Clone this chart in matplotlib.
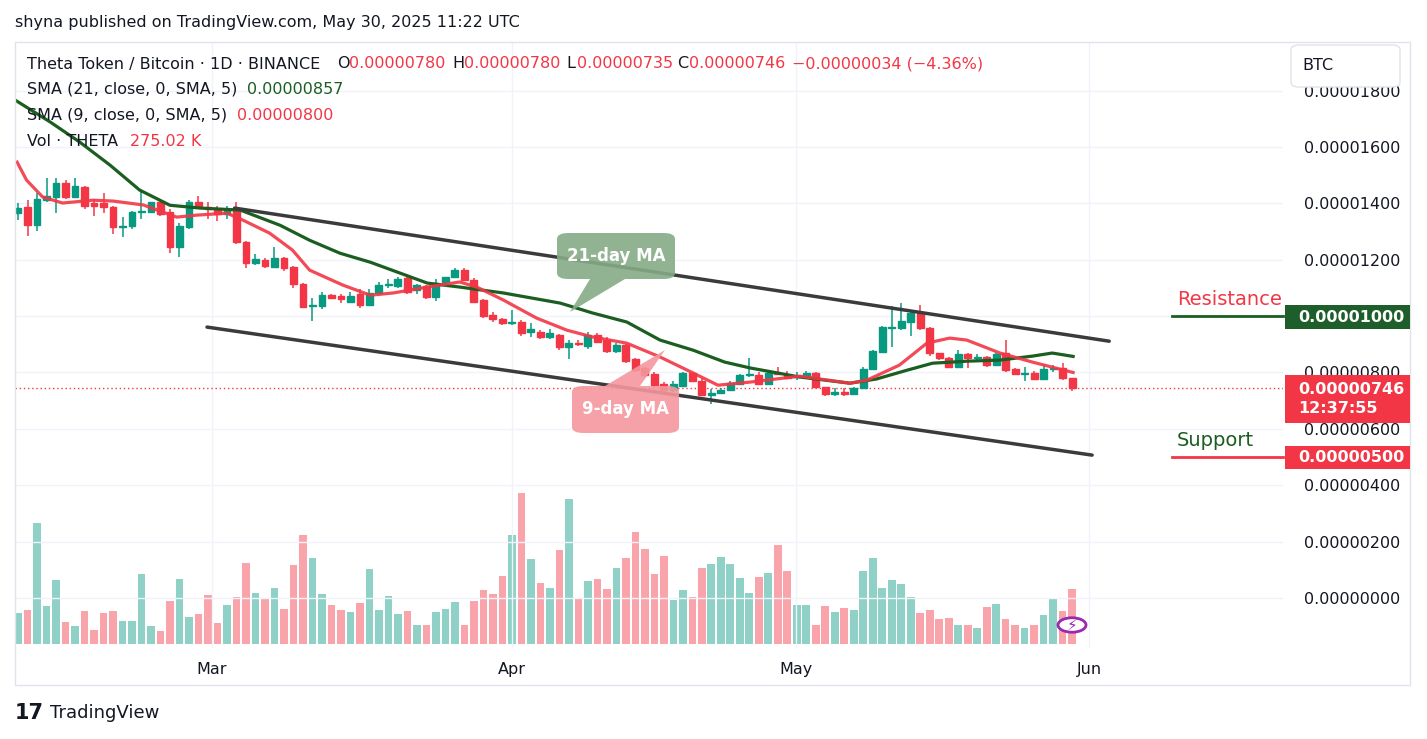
import matplotlib
matplotlib.use("Agg")
import matplotlib.pyplot as plt
from matplotlib.patches import FancyBboxPatch, Polygon, Rectangle, Circle
import numpy as np

# prices in units of 1e-8 BTC (satoshi)
opens = [1365,1387,1323,1411,1422,1472,1422,1457,1401,1401,1387,1316,1320,1369,1369,1404,1369,1245,1316,1404,
         1387,1380,1362,1376,1263,1188,1199,1174,1206,1174,1113,1035,1035,1074,1070,1050,1078,1039,1081,1110,
         1106,1135,1092,1106,1067,1120,1138,1163,1128,1057,1003,989,975,979,945,943,925,933,890,904,
         893,933,915,876,897,847,815,794,759,738,752,798,770,720,727,738,759,791,791,759,
         798,791,783,784,798,748,723,730,723,745,812,872,957,957,979,1010,957,869,851,819,
         865,851,855,826,869,812,795,798,777,812,815,780]
highs = [1400,1410,1436,1489,1489,1482,1489,1460,1415,1436,1390,1350,1372,1447,1404,1404,1380,1330,1412,1425,
         1404,1390,1390,1404,1265,1220,1205,1245,1210,1178,1118,1065,1085,1080,1080,1085,1095,1095,1120,1130,
         1140,1140,1115,1110,1130,1140,1170,1170,1135,1060,1015,995,1020,985,975,950,955,935,915,915,
         945,940,925,905,900,850,820,800,765,770,800,800,780,740,745,770,795,851,800,805,
         820,805,800,805,802,750,745,745,750,818,880,965,1035,1045,1015,1040,960,870,855,880,
         870,865,860,870,915,815,820,805,825,825,835,780]
lows = [1340,1284,1300,1405,1365,1415,1418,1380,1355,1365,1291,1280,1310,1345,1365,1355,1224,1210,1310,1380,
        1345,1337,1345,1255,1170,1180,1170,1170,1160,1100,1030,982,1025,1060,1045,1045,1030,1035,1075,1100,
        1100,1080,1080,1060,1055,1110,1135,1125,1045,995,980,968,970,930,925,920,920,880,847,895,
        885,905,870,870,835,800,785,750,730,730,750,765,715,688,722,735,755,785,755,755,
        790,778,775,780,745,715,718,715,720,740,808,868,890,950,930,950,860,845,815,815,
        815,840,820,822,800,790,770,775,775,800,775,735]
closes = [1383,1323,1415,1425,1472,1422,1461,1390,1390,1387,1316,1320,1369,1372,1404,1362,1245,1320,1404,1387,
          1380,1362,1380,1263,1188,1202,1177,1206,1170,1113,1032,1035,1074,1064,1060,1070,1039,1081,1110,1113,
          1131,1085,1110,1067,1117,1138,1163,1128,1050,1000,989,975,979,940,954,925,940,890,904,900,
          933,908,876,897,840,808,791,755,738,759,798,770,720,727,738,762,791,791,759,798,
          794,780,783,798,748,723,730,723,745,812,876,961,957,982,1010,957,869,851,819,865,
          851,851,826,865,808,794,798,777,812,815,780,746]
volumes_k = [155,170,605,190,320,110,90,165,70,155,165,115,115,350,90,65,215,325,135,150,
             245,105,195,235,405,255,225,280,175,395,545,430,250,195,170,160,205,375,170,240,
             150,165,95,95,160,175,210,95,215,270,250,340,545,755,425,305,280,470,725,230,
             315,325,275,380,430,560,475,350,440,220,270,235,380,400,435,400,330,255,335,355,
             495,365,195,195,95,190,160,180,170,365,430,280,320,300,235,155,170,125,130,95,
             95,80,185,200,125,95,80,95,145,225,165,275.02]

sma21_idx = [-0.3,3.4,6.5,9.7,12.8,16.0,19.2,23.4,27.6,30.7,33.9,37.1,43.1,46.5,51.1,57.1,60.5,64.1,67.6,71.1,
             74.4,77.1,82.3,87.6,90.4,93.6,96.3,99.9,103.4,106.8,108.9,111.1]
sma21_val = [1766,1688,1617,1535,1447,1393,1383,1376,1322,1269,1223,1191,1117,1103,1082,1046,1011,979,915,879,
             837,816,784,762,777,808,833,840,844,858,869,857]
sma9_idx = [-0.1,0.9,2.6,4.7,7.9,10.0,13.2,16.7,18.8,22.0,23.7,26.5,28.9,30.7,34.2,37.1,39.5,43.1,46.5,48.3,
            51.1,54.6,57.8,60.5,64.1,67.6,71.1,73.7,77.1,82.3,87.6,89.4,92.8,95.7,98.1,99.9,103.4,106.8,111.1]
sma9_val = [1546,1482,1422,1401,1411,1408,1394,1351,1358,1365,1340,1294,1234,1163,1110,1074,1082,1103,1121,1103,
            1057,993,950,926,904,855,798,755,766,787,762,773,826,904,922,915,869,837,800]

upper_channel = ([22.8, 114.9], [1383, 911])
lower_channel = ([19.9, 113.1], [961, 507])
resistance = 1000
support = 500
last_price = 746
month_pos = [20.4, 52.0, 81.9, 112.8]
month_labels = ["Mar", "Apr", "May", "Jun"]
price_ticks = [0, 200, 400, 600, 800, 1000, 1200, 1400, 1600, 1800]

GREEN = "#089981"; RED = "#f23645"; DKGREEN = "#1b5e20"
W, H = 1427, 739
fig = plt.figure(figsize=(W/100, H/100), dpi=100)
def P(x, y):
    return (x/W, 1 - y/H)

ax = fig.add_axes([15/W, 1-648/H, 1268/W, 606/H])
ax.set_xlim(-0.32, 133.2)
ax.set_ylim(-177, 1972)
axv = ax.twinx()
axv.set_ylim(-20, 3010)
axv.axis("off")
ax.set_zorder(axv.get_zorder()+1)
ax.patch.set_visible(False)

for s in ax.spines.values():
    s.set_visible(False)
ax.set_yticks(price_ticks)
ax.set_yticklabels(["" if v in (resistance,) else f"{v*1e-8:.8f}" for v in price_ticks])
ax.yaxis.tick_right()
ax.tick_params(axis="y", length=0, pad=15, labelsize=11.5, labelcolor="#131722")
ax.set_xticks(month_pos)
ax.set_xticklabels(month_labels)
ax.tick_params(axis="x", length=0, pad=10, labelsize=11.5, labelcolor="#131722")
ax.grid(True, color="#f0f3fa", lw=1)
ax.set_axisbelow(True)

idx = np.arange(len(closes))
for i in idx:
    up = closes[i] >= opens[i]
    c = GREEN if up else RED
    ax.vlines(i, lows[i], highs[i], color=c, lw=1.1, zorder=3)
    lo, hi = min(opens[i], closes[i]), max(opens[i], closes[i])
    ax.add_patch(Rectangle((i-0.36, lo), 0.72, max(hi-lo, 3), color=c, zorder=4))
    axv.bar(i, volumes_k[i], width=0.8, color=c, alpha=0.45, lw=0)

ax.plot(sma21_idx, sma21_val, color=DKGREEN, lw=2.3, zorder=5, solid_joinstyle="round")
ax.plot(sma9_idx, sma9_val, color=RED, lw=2.3, zorder=5, alpha=0.9, solid_joinstyle="round")
ax.plot(*upper_channel, color="#3b3b3b", lw=2.5, zorder=6, solid_capstyle="round")
ax.plot(*lower_channel, color="#3b3b3b", lw=2.5, zorder=6, solid_capstyle="round")
ax.axhline(last_price, color=RED, lw=1, ls=(0, (1, 2)), zorder=2)

# resistance / support markers
ax.plot([121.5, 133.2], [resistance]*2, color=DKGREEN, lw=2, clip_on=False)
ax.plot([121.5, 133.2], [support]*2, color=RED, lw=2, clip_on=False)
ax.text(122, resistance+25, "Resistance", color=RED, fontsize=14, va="bottom", ha="left")
ax.text(122, support+25, "Support", color=DKGREEN, fontsize=14, va="bottom", ha="left")

# bubbles
fig.patches.append(FancyBboxPatch(P(557, 279), 118/W, 46/H, boxstyle="round,pad=0,rounding_size=0.008",
                                  transform=fig.transFigure, fc="#86ab86", ec="none", alpha=0.9, zorder=10))
fig.patches.append(Polygon([P(590, 279), P(570, 312), P(625, 279)], closed=True, transform=fig.transFigure,
                           fc="#86ab86", ec="none", alpha=0.9, zorder=10))
fig.text(*P(616, 256), "21-day MA", color="white", fontsize=12, fontweight="bold", ha="center", va="center", zorder=11)
fig.patches.append(FancyBboxPatch(P(572, 433), 107/W, 47/H, boxstyle="round,pad=0,rounding_size=0.008",
                                  transform=fig.transFigure, fc="#f4979e", ec="none", alpha=0.9, zorder=10))
fig.patches.append(Polygon([P(605, 386), P(665, 350), P(640, 386)], closed=True, transform=fig.transFigure,
                           fc="#f4979e", ec="none", alpha=0.9, zorder=10))
fig.text(*P(625, 409), "9-day MA", color="white", fontsize=12, fontweight="bold", ha="center", va="center", zorder=11)

# right axis price boxes
def box(y0, y1, fc, txt):
    fig.patches.append(Rectangle(P(1285, y1), 125/W, (y1-y0)/H, transform=fig.transFigure, fc=fc, ec="none", zorder=10))
    fig.text(*P(1298, (y0+y1)/2), txt, color="white", fontsize=11.5, fontweight="bold", va="center", ha="left",
             zorder=11, linespacing=1.3)
box(305, 329, "#1e5e2a", "0.00001000")
box(446, 469, RED, "0.00000500")
box(375, 423, RED, "0.00000746\n12:37:55")

# BTC box
fig.patches.append(FancyBboxPatch(P(1291, 87), 109/W, 42/H, boxstyle="round,pad=0,rounding_size=0.006",
                                  transform=fig.transFigure, fc="white", ec="#e0e3eb", zorder=10))
fig.text(*P(1302, 66), "BTC", fontsize=11.5, color="#131722", va="center", zorder=11)

# frame
fig.patches.append(Rectangle(P(15, 685), 1395/W, 643/H, transform=fig.transFigure, fc="none", ec="#e0e3eb", lw=1))

# lightning icon
fig.patches.append(Circle(P(1072, 625), 14/W, transform=fig.transFigure, fc="white", ec="#9c27b0", lw=2, zorder=10))
fig.text(*P(1072, 625), "⚡", color="#9c27b0", fontsize=11, ha="center", va="center", zorder=11)

# header texts
def t(x, y, s, c="#131722", fs=11.5, **kw):
    fig.text(*P(x, y), s, color=c, fontsize=fs, va="center", ha="left", **kw)
t(15, 22, "shyna published on TradingView.com, May 30, 2025 11:22 UTC", fs=11.5)
t(27, 64, "Theta Token / Bitcoin · 1D · BINANCE")
for x, lab, xv, val in [(337, "O", 349, "0.00000780"), (452, "H", 464, "0.00000780"),
                        (566, "L", 577, "0.00000735"), (677, "C", 689, "0.00000746")]:
    t(x, 64, lab); t(xv, 64, val, RED)
t(792, 64, "−0.00000034 (−4.36%)", RED)
t(27, 89, "SMA (21, close, 0, SMA, 5)"); t(247, 89, "0.00000857", DKGREEN)
t(27, 115, "SMA (9, close, 0, SMA, 5)"); t(237, 115, "0.00000800", RED)
t(27, 141, "Vol · THETA"); t(130, 141, "275.02 K", RED)
t(15, 713, "17", fs=15, fontweight="bold")
t(50, 713, "TradingView", fs=13)

fig.savefig("out.png", dpi=100)
